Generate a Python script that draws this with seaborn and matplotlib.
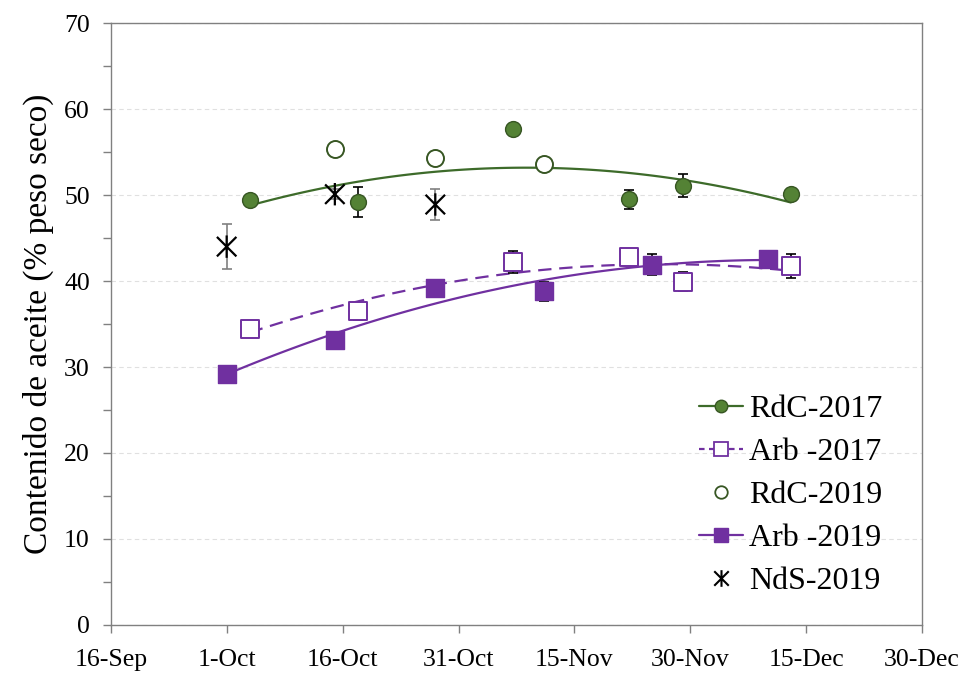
import numpy as np
import pandas as pd
import seaborn as sns
import matplotlib.pyplot as plt
import matplotlib.dates as mdates
from matplotlib.lines import Line2D
from matplotlib.path import Path
from matplotlib.ticker import MultipleLocator

# Sampling dates (day of season, drawn on one common year axis)
dates_2017 = ['10-04', '10-18', '11-07', '11-22', '11-29', '12-13']
dates_2019 = ['10-01', '10-15', '10-28', '11-11', '11-25', '12-10']
dates_rdc_2019 = ['10-15', '10-28', '11-11']
dates_nds_2019 = ['10-01', '10-15', '10-28']

# Oil content (% dry weight) and error bars
rdc_2017 = [49.4, 49.2, 57.7, 49.5, 51.1, 50.1]
rdc_2017_err = [0.6, 1.7, 0.3, 1.1, 1.3, 0.3]
arb_2017 = [34.4, 36.5, 42.2, 42.8, 39.9, 41.8]
arb_2017_err = [0.4, 1.0, 1.3, 0.5, 1.1, 1.4]
rdc_2019 = [55.3, 54.3, 53.6]
arb_2019 = [29.2, 33.1, 39.2, 38.8, 41.9, 42.6]
arb_2019_err = [0.4, 0.5, 0.5, 1.1, 1.2, 0.5]
nds_2019 = [44.0, 50.1, 48.9]
nds_2019_err = [2.6, 0.6, 1.8]

tick_start = '2019-09-16'
tick_labels_n = 8

green_line = '#3d6b2a'
green_fill = '#548235'
green_edge = '#375623'
purple = '#7030a0'


def to_num(days):
    return mdates.date2num(pd.to_datetime(['2019-' + d for d in days]))


x17 = to_num(dates_2017)
x19 = to_num(dates_2019)
xr19 = to_num(dates_rdc_2019)
xn19 = to_num(dates_nds_2019)

sns.set_theme(style='white')
plt.rcParams['font.family'] = ['Liberation Serif', 'DejaVu Serif']
plt.rcParams['text.color'] = 'black'
plt.rcParams['axes.labelcolor'] = 'black'

fig, ax = plt.subplots(figsize=(9.8, 6.8), dpi=100)
fig.subplots_adjust(left=0.113, right=0.941, bottom=0.081, top=0.966)

# quadratic trendlines
sns.regplot(x=x17, y=rdc_2017, order=2, ci=None, scatter=False, truncate=True,
            color=green_line, line_kws={'lw': 1.6, 'zorder': 2}, ax=ax)
sns.regplot(x=x17, y=arb_2017, order=2, ci=None, scatter=False, truncate=True,
            color=purple, line_kws={'lw': 1.6, 'ls': (0, (6, 3.5)), 'zorder': 2}, ax=ax)
sns.regplot(x=x19, y=arb_2019, order=2, ci=None, scatter=False, truncate=True,
            color=purple, line_kws={'lw': 1.6, 'zorder': 2}, ax=ax)

# error bars
eb = dict(fmt='none', elinewidth=1.2, capsize=3.5, capthick=1.2, zorder=3)
ax.errorbar(x17, rdc_2017, yerr=rdc_2017_err, ecolor='black', **eb)
ax.errorbar(x17, arb_2017, yerr=arb_2017_err, ecolor='black', **eb)
ax.errorbar(x19, arb_2019, yerr=arb_2019_err, ecolor='black', **eb)
ax.errorbar(xn19, nds_2019, yerr=nds_2019_err, ecolor='#808080', **eb)

# asterisk marker: X with a vertical bar
star = Path([(-1, -1), (1, 1), (-1, 1), (1, -1), (0, -1.15), (0, 1.15)],
            [Path.MOVETO, Path.LINETO] * 3)

sns.scatterplot(x=x17, y=rdc_2017, marker='o', s=130, color=green_fill,
                edgecolor=green_edge, linewidth=1, zorder=4, ax=ax)
sns.scatterplot(x=x17, y=arb_2017, marker='s', s=150, color='white',
                edgecolor=purple, linewidth=1.4, zorder=4, ax=ax)
sns.scatterplot(x=xr19, y=rdc_2019, marker='o', s=150, color='white',
                edgecolor=green_edge, linewidth=1.4, zorder=4, ax=ax)
sns.scatterplot(x=x19, y=arb_2019, marker='s', s=150, color=purple,
                edgecolor=purple, linewidth=1, zorder=4, ax=ax)
ax.scatter(xn19, nds_2019, marker=star, s=260, facecolors='none',
           edgecolors='black', linewidths=1.6, zorder=4)

# axes
xt = mdates.date2num(pd.date_range(tick_start, periods=tick_labels_n, freq='15D'))
ax.set_xlim(xt[0], xt[-1])
ax.set_xticks(xt)
ax.xaxis.set_major_formatter(mdates.DateFormatter('%-d-%b'))
ax.set_ylim(0, 70)
ax.set_yticks(range(0, 71, 10))
ax.yaxis.set_minor_locator(MultipleLocator(5))
ax.tick_params(which='both', direction='out', length=6, width=1, color='#808080',
               labelsize=18.5, labelcolor='black')
ax.tick_params(axis='x', pad=11, bottom=True)
ax.tick_params(axis='y', which='both', pad=9, left=True)
ax.tick_params(axis='x', which='minor', bottom=False)
for sp in ax.spines.values():
    sp.set_color('#808080')
    sp.set_linewidth(1)
ax.yaxis.grid(True, ls=(0, (4, 3)), color='#e0e0e0', lw=0.8)
ax.set_axisbelow(True)
ax.set_ylabel('Contenido de aceite (% peso seco)', fontsize=24, labelpad=7)
ax.set_xlabel('')

handles = [
    Line2D([], [], color=green_line, lw=1.6, marker='o', ms=9,
           mfc=green_fill, mec=green_edge),
    Line2D([], [], color=purple, lw=1.6, ls=(0, (2.5, 2)), marker='s', ms=10,
           mfc='white', mec=purple, mew=1.3),
    Line2D([], [], ls='none', marker='o', ms=9, mfc='white', mec=green_edge, mew=1.3),
    Line2D([], [], color=purple, lw=1.6, marker='s', ms=10, mfc=purple, mec=purple),
    Line2D([], [], ls='none', marker=star, ms=12, mfc='none', mec='black', mew=1.5),
]
labels = ['RdC-2017', 'Arb -2017', 'RdC-2019', 'Arb -2019', 'NdS-2019']
ax.legend(handles, labels, loc='lower left', bbox_to_anchor=(0.69, 0.0),
          frameon=False, fontsize=23, handlelength=1.35, handletextpad=0.2,
          labelspacing=0.43, borderpad=0.4)

plt.savefig('out.png', dpi=100)
